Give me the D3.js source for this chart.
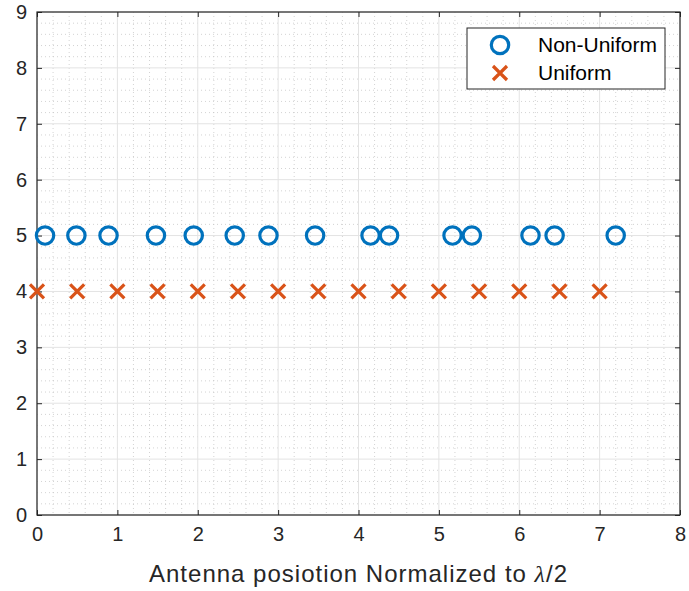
<!DOCTYPE html>
<html>
<head>
<meta charset="utf-8">
<script src="https://cdn.jsdelivr.net/npm/d3@7"></script>
<style>
  body { margin: 0; background: #fff; }
  svg { display: block; font-family: 'Liberation Sans', Arial, sans-serif; }
</style>
</head>
<body>
<svg id="chart"></svg>
<script>
const WIDTH = 689;
const HEIGHT = 591;
const MARGIN = {top: 12, right: 9, bottom: 76, left: 37};

// antenna positions (normalized to lambda/2)
const nonUniformX = [0.1, 0.49, 0.89, 1.48, 1.95, 2.46, 2.88, 3.46, 4.15, 4.38, 5.17, 5.41, 6.14, 6.44, 7.2];
const nonUniformY = 5;
const uniformX = [0, 0.5, 1, 1.5, 2, 2.5, 3, 3.5, 4, 4.5, 5, 5.5, 6, 6.5, 7];
const uniformY = 4;

const xTicks = [0, 1, 2, 3, 4, 5, 6, 7, 8];
const yTicks = [0, 1, 2, 3, 4, 5, 6, 7, 8, 9];
const legendLabels = ['Non-Uniform', 'Uniform'];

const BLUE = '#0072BD';
const ORANGE = '#D95319';
const AXIS = '#262626';

const width = WIDTH - MARGIN.left - MARGIN.right;
const height = HEIGHT - MARGIN.top - MARGIN.bottom;

const x = d3.scaleLinear().domain([0, 8]).range([0, width]);
const y = d3.scaleLinear().domain([0, 9]).range([height, 0]);

const svg = d3.select('#chart')
  .attr('width', WIDTH)
  .attr('height', HEIGHT);

const chart = svg.append('g')
  .attr('transform', `translate(${MARGIN.left}, ${MARGIN.top})`);

// minor grid
const minorX = d3.range(0, 8.001, 0.2).filter((v) => Math.abs(v - Math.round(v)) > 1e-6);
const minorY = d3.range(0, 9.001, 0.2).filter((v) => Math.abs(v - Math.round(v)) > 1e-6);

chart.append('g')
  .selectAll('line')
  .data(minorX)
  .enter()
  .append('line')
  .attr('x1', (d) => x(d)).attr('x2', (d) => x(d))
  .attr('y1', 0).attr('y2', height)
  .attr('stroke', '#c0c0c0')
  .attr('stroke-width', 0.7)
  .attr('stroke-dasharray', '1,3');

chart.append('g')
  .selectAll('line')
  .data(minorY)
  .enter()
  .append('line')
  .attr('y1', (d) => y(d)).attr('y2', (d) => y(d))
  .attr('x1', 0).attr('x2', width)
  .attr('stroke', '#c0c0c0')
  .attr('stroke-width', 0.7)
  .attr('stroke-dasharray', '1,3');

// major grid
chart.append('g')
  .selectAll('line')
  .data(xTicks)
  .enter()
  .append('line')
  .attr('x1', (d) => x(d)).attr('x2', (d) => x(d))
  .attr('y1', 0).attr('y2', height)
  .attr('stroke', '#e3e3e3')
  .attr('stroke-width', 1);

chart.append('g')
  .selectAll('line')
  .data(yTicks)
  .enter()
  .append('line')
  .attr('y1', (d) => y(d)).attr('y2', (d) => y(d))
  .attr('x1', 0).attr('x2', width)
  .attr('stroke', '#e3e3e3')
  .attr('stroke-width', 1);

// axes, ticks pointing inward
const styleAxis = (g) => {
  g.select('.domain').remove();
  g.selectAll('.tick line').attr('stroke', AXIS);
  g.selectAll('.tick text')
    .attr('fill', AXIS)
    .style('font-size', '20px');
};

chart.append('g')
  .attr('transform', `translate(0, ${height})`)
  .call(d3.axisBottom(x).tickValues(xTicks).tickSizeInner(-5).tickSizeOuter(0).tickPadding(12))
  .call(styleAxis);

chart.append('g')
  .call(d3.axisLeft(y).tickValues(yTicks).tickSizeInner(-5).tickSizeOuter(0).tickPadding(10))
  .call(styleAxis);

chart.append('g')
  .call(d3.axisTop(x).tickValues(xTicks).tickSizeInner(-5).tickSizeOuter(0).tickFormat(''))
  .call(styleAxis);

chart.append('g')
  .attr('transform', `translate(${width}, 0)`)
  .call(d3.axisRight(y).tickValues(yTicks).tickSizeInner(-5).tickSizeOuter(0).tickFormat(''))
  .call(styleAxis);

chart.append('rect')
  .attr('width', width)
  .attr('height', height)
  .attr('fill', 'none')
  .attr('stroke', AXIS)
  .attr('stroke-width', 1.2);

// markers
const R = 8.7;
const C = 7;

chart.selectAll('.non-uniform')
  .data(nonUniformX)
  .enter()
  .append('circle')
  .attr('class', 'non-uniform')
  .attr('cx', (d) => x(d))
  .attr('cy', y(nonUniformY))
  .attr('r', R)
  .attr('fill', 'none')
  .attr('stroke', BLUE)
  .attr('stroke-width', 3.2);

const cross = (sel, cx, cy) => sel.append('path')
  .attr('d', `M${cx - C},${cy - C}L${cx + C},${cy + C}M${cx - C},${cy + C}L${cx + C},${cy - C}`)
  .attr('stroke', ORANGE)
  .attr('stroke-width', 3.2)
  .attr('fill', 'none');

const crosses = chart.append('g').attr('class', 'uniform');
uniformX.forEach((d) => cross(crosses, x(d), y(uniformY)));

// x label
svg.append('text')
  .attr('x', MARGIN.left + width / 2)
  .attr('y', 582)
  .attr('text-anchor', 'middle')
  .attr('fill', AXIS)
  .style('font-size', '24px')
  .style('letter-spacing', '1px')
  .call((t) => {
    t.append('tspan').text('Antenna posiotion Normalized to ');
    t.append('tspan').style('font-style', 'italic').style('font-family', "'Liberation Serif', serif").text('\u03bb');
    t.append('tspan').text('/2');
  });

// legend
const legend = svg.append('g').attr('transform', 'translate(467, 28)');
legend.append('rect')
  .attr('width', 198)
  .attr('height', 61)
  .attr('fill', '#fff')
  .attr('stroke', AXIS)
  .attr('stroke-width', 1);

legend.append('circle')
  .attr('cx', 33).attr('cy', 17)
  .attr('r', R)
  .attr('fill', 'none')
  .attr('stroke', BLUE)
  .attr('stroke-width', 3.2);
cross(legend, 33, 45);

legend.selectAll('.legend-label')
  .data(legendLabels)
  .enter()
  .append('text')
  .attr('class', 'legend-label')
  .attr('x', 71)
  .attr('y', (d, i) => 17 + i * 28)
  .attr('dy', '0.35em')
  .attr('fill', '#000')
  .style('font-size', '21px')
  .text((d) => d);
</script>
</body>
</html>
